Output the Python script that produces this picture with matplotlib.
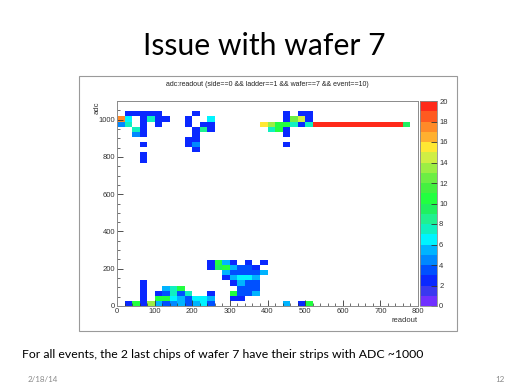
import numpy as np
import matplotlib.pyplot as plt
from matplotlib.colors import ListedColormap, BoundaryNorm
from matplotlib.patches import Rectangle
from matplotlib.ticker import MultipleLocator

# filled cells of the 2D histogram (bin centres)
readout = [30, 50, 70, 90, 110,
           10, 30, 70, 90, 110, 130,
           10, 30, 70, 110,
           50, 70,
           50, 70,
           70, 70, 70,
           210, 190, 250, 190, 230, 250, 210, 230, 250, 210, 190, 210, 190, 210, 210,
           450, 490, 510, 450, 470, 490, 510,
           390, 410, 430, 450, 470, 490, 510,
           530, 550, 570, 590, 610, 630, 650, 670, 690, 710, 730, 750, 770,
           410, 430, 450, 450, 450,
           30, 50, 70, 90, 110, 130, 150, 170, 190, 210, 230, 250,
           70, 110, 130, 150, 170, 190, 210, 230, 250,
           70, 110, 130, 150, 170, 190, 250,
           70, 130, 150, 170,
           70,
           250, 270, 290, 310, 350, 390,
           250, 270, 290, 310, 330, 350, 370,
           290, 310, 330, 350, 370, 390,
           290, 310, 330, 350, 370,
           310, 330, 350, 370,
           330, 350, 370,
           310, 330, 350, 370,
           310, 330,
           450, 490, 510]
adc = [1031, 1031, 1031, 1031, 1031,
       1004, 1004, 1004, 1004, 1004, 1004,
       976, 976, 976, 976,
       949, 949,
       921, 921,
       866, 811, 784,
       1031, 1004, 1004, 976, 976, 976, 949, 949, 949, 921, 894, 894, 866, 866, 839,
       1031, 1031, 1031, 1004, 1004, 1004, 1004,
       976, 976, 976, 976, 976, 976, 976,
       976, 976, 976, 976, 976, 976, 976, 976, 976, 976, 976, 976, 976,
       949, 949, 949, 921, 866,
       14, 14, 14, 14, 14, 14, 14, 14, 14, 14, 14, 14,
       41, 41, 41, 41, 41, 41, 41, 41, 41,
       69, 69, 69, 69, 69, 69, 69,
       96, 96, 96, 96,
       124,
       234, 234, 234, 234, 234, 234,
       206, 206, 206, 206, 206, 206, 206,
       179, 179, 179, 179, 179, 179,
       151, 151, 151, 151, 151,
       124, 124, 124, 124,
       96, 96, 96,
       69, 69, 69, 69,
       41, 41,
       14, 14, 14]
entries = [2, 2, 2, 2, 2,
           17, 6, 2, 7, 2, 2,
           4, 7, 2, 2,
           7, 2,
           4, 2,
           2, 2, 2,
           2, 2, 6, 2, 2, 2, 2, 8, 2, 2, 2, 2, 2, 4, 2,
           2, 2, 2, 2, 12, 14, 2,
           15, 13, 10, 10, 7, 2, 7,
           19, 19, 19, 19, 19, 19, 19, 19, 19, 19, 19, 19, 9,
           7, 10, 2, 2, 2,
           2, 10, 2, 13, 5, 3, 4, 5, 3, 5, 6, 3,
           2, 10, 10, 6, 5, 3, 6, 6, 5,
           2, 2, 3, 7, 3, 7, 2,
           2, 5, 7, 10,
           2,
           2, 10, 5, 2, 2, 2,
           2, 9, 10, 5, 3, 3, 2,
           5, 3, 3, 3, 3, 5,
           2, 5, 6, 6, 5,
           2, 5, 3, 3,
           3, 3, 3,
           10, 3, 3, 5,
           2, 2,
           5, 2, 10]

# ROOT rainbow palette, 20 contour levels 0..20
palette = ['#7030ff', '#3a38f0', '#0a28ff', '#0050ff', '#0088ff',
           '#00b4ff', '#00f4ff', '#10f0c0', '#20f090', '#20f060',
           '#22ff40', '#44f040', '#6cee44', '#9cee44', '#d0ee44',
           '#ffe833', '#ffb030', '#ff8a28', '#ff5a20', '#ff2a1a']

xedges = np.linspace(0, 800, 41)
yedges = np.linspace(0, 1100, 41)

W, H = 521, 390
fig = plt.figure(figsize=(W / 100, H / 100), dpi=100)

def fx(px):
    return px / W

def fy(py):
    return 1 - py / H

# slide text
fig.text(fx(264), fy(46), 'Issue with wafer 7', ha='center', va='center',
         fontsize=21.7, family='Lato', color='black')
fig.text(fx(22), fy(355), 'For all events, the 2 last chips of wafer 7 have their strips with ADC ~1000',
         ha='left', va='center', fontsize=8.85, family='Lato', color='black')
fig.text(fx(28), fy(379), '2/18/14', ha='left', va='center', fontsize=5.8,
         family='Lato', color='#8a8a8a')
fig.text(fx(505), fy(379), '12', ha='right', va='center', fontsize=5.8,
         family='Lato', color='#8a8a8a')

# canvas frame
fig.patches.append(Rectangle((fx(79), fy(331)), fx(457) - fx(79), fy(76) - fy(331),
                             transform=fig.transFigure, facecolor='white',
                             edgecolor='#9a9a9a', linewidth=0.8, zorder=-5))
fig.text(fx(267), fy(85), 'adc:readout (side==0 && ladder==1 && wafer==7 && event==10)',
         ha='center', va='center', fontsize=5.0, family='Liberation Sans', color='#222222')

ax = fig.add_axes([fx(117), fy(306), fx(418) - fx(117), fy(101) - fy(306)])
cax = fig.add_axes([fx(419.5), fy(306), fx(437) - fx(419.5), fy(101) - fy(306)])

cmap = ListedColormap(palette)
norm = BoundaryNorm(np.arange(0, 21, 1), cmap.N)
h = ax.hist2d(readout, adc, bins=[xedges, yedges], weights=entries,
              cmap=cmap, norm=norm, cmin=0.5)

ax.set_xlim(0, 800)
ax.set_ylim(0, 1100)
ax.xaxis.set_major_locator(MultipleLocator(100))
ax.xaxis.set_minor_locator(MultipleLocator(20))
ax.yaxis.set_major_locator(MultipleLocator(200))
ax.yaxis.set_minor_locator(MultipleLocator(50))
ax.tick_params(which='both', direction='in', labelsize=5.5, colors='#333333',
               top=False, right=False, pad=1.5)
ax.tick_params(which='major', length=4, width=0.6)
ax.tick_params(which='minor', length=2, width=0.5)
for s in ax.spines.values():
    s.set_color('#8a8a8a')
    s.set_linewidth(0.7)

fig.text(fx(97), fy(101), 'adc', rotation=90, ha='center', va='top',
         fontsize=5.5, family='Liberation Sans', color='#333333')
fig.text(fx(418), fy(321), 'readout', ha='right', va='center',
         fontsize=5.5, family='Liberation Sans', color='#333333')
for t in ax.get_xticklabels() + ax.get_yticklabels():
    t.set_family('Liberation Sans')

cb = fig.colorbar(h[3], cax=cax, ticks=range(0, 21, 2))
cb.outline.set_edgecolor('#8a8a8a')
cb.outline.set_linewidth(0.6)
cax.tick_params(direction='in', labelsize=5.5, colors='#333333', length=4,
                width=0.6, pad=1.5)
cax.minorticks_off()
for t in cax.get_yticklabels():
    t.set_family('Liberation Sans')

fig.savefig('out.png', dpi=100)
